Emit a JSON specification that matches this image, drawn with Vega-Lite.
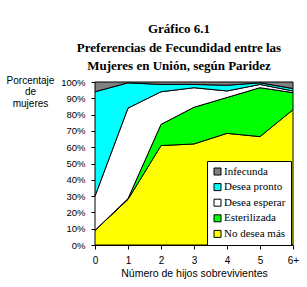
{
  "$schema": "https://vega.github.io/schema/vega-lite/v6.json",
  "width": 198,
  "height": 163,
  "autosize": {"type": "none"},
  "padding": {"left": 95, "top": 82, "right": 14, "bottom": 42},
  "background": "white",
  "title": {
    "text": ["Gráfico 6.1", "Preferencias de Fecundidad entre las", "Mujeres en Unión, según Paridez"],
    "font": "Liberation Serif",
    "fontSize": 13,
    "fontWeight": "bold",
    "color": "black",
    "anchor": "middle",
    "lineHeight": 18.5,
    "offset": 2,
    "dx": -15
  },
  "config": {
    "view": {"stroke": null},
    "axis": {"grid": false, "domainColor": "black", "tickColor": "black", "labelColor": "black", "titleColor": "black", "labelFont": "Liberation Sans", "titleFont": "Liberation Sans", "titleFontWeight": "normal"},
    "legend": {"labelFont": "Liberation Serif", "labelFontSize": 11, "labelColor": "black"}
  },
  "data": {
    "values": [
      {"hijos": "0", "serie": "No desea más", "pct": 9},
      {"hijos": "0", "serie": "Esterilizada", "pct": 0},
      {"hijos": "0", "serie": "Desea esperar", "pct": 21},
      {"hijos": "0", "serie": "Desea pronto", "pct": 64},
      {"hijos": "0", "serie": "Infecunda", "pct": 6},
      {"hijos": "1", "serie": "No desea más", "pct": 28},
      {"hijos": "1", "serie": "Esterilizada", "pct": 0.5},
      {"hijos": "1", "serie": "Desea esperar", "pct": 55.5},
      {"hijos": "1", "serie": "Desea pronto", "pct": 15.5},
      {"hijos": "1", "serie": "Infecunda", "pct": 0.5},
      {"hijos": "2", "serie": "No desea más", "pct": 61},
      {"hijos": "2", "serie": "Esterilizada", "pct": 13},
      {"hijos": "2", "serie": "Desea esperar", "pct": 20},
      {"hijos": "2", "serie": "Desea pronto", "pct": 4.5},
      {"hijos": "2", "serie": "Infecunda", "pct": 1.5},
      {"hijos": "3", "serie": "No desea más", "pct": 62},
      {"hijos": "3", "serie": "Esterilizada", "pct": 22.5},
      {"hijos": "3", "serie": "Desea esperar", "pct": 12},
      {"hijos": "3", "serie": "Desea pronto", "pct": 2},
      {"hijos": "3", "serie": "Infecunda", "pct": 1.5},
      {"hijos": "4", "serie": "No desea más", "pct": 68.5},
      {"hijos": "4", "serie": "Esterilizada", "pct": 22},
      {"hijos": "4", "serie": "Desea esperar", "pct": 4},
      {"hijos": "4", "serie": "Desea pronto", "pct": 3.5},
      {"hijos": "4", "serie": "Infecunda", "pct": 2},
      {"hijos": "5", "serie": "No desea más", "pct": 66.5},
      {"hijos": "5", "serie": "Esterilizada", "pct": 30},
      {"hijos": "5", "serie": "Desea esperar", "pct": 2},
      {"hijos": "5", "serie": "Desea pronto", "pct": 1},
      {"hijos": "5", "serie": "Infecunda", "pct": 0.5},
      {"hijos": "6+", "serie": "No desea más", "pct": 83},
      {"hijos": "6+", "serie": "Esterilizada", "pct": 10.5},
      {"hijos": "6+", "serie": "Desea esperar", "pct": 1},
      {"hijos": "6+", "serie": "Desea pronto", "pct": 1.5},
      {"hijos": "6+", "serie": "Infecunda", "pct": 4}
    ]
  },
  "transform": [
    {"calculate": "indexof(['No desea más','Esterilizada','Desea esperar','Desea pronto','Infecunda'], datum.serie)", "as": "orden"}
  ],
  "mark": {"type": "area", "stroke": "black", "strokeWidth": 1, "opacity": 1, "fillOpacity": 1},
  "encoding": {
    "x": {
      "field": "hijos", "type": "ordinal",
      "scale": {"type": "point", "padding": 0},
      "axis": {"labelAngle": 0, "title": "Número de hijos sobrevivientes", "titleFontSize": 10.5, "labelFontSize": 10, "tickSize": 4, "labelPadding": 6, "titlePadding": 3}
    },
    "y": {
      "field": "pct", "type": "quantitative", "stack": "zero",
      "scale": {"domain": [0, 100], "nice": false},
      "axis": {
        "values": [0, 10, 20, 30, 40, 50, 60, 70, 80, 90, 100],
        "labelExpr": "datum.value + '%'",
        "labelFontSize": 9.5,
        "tickSize": 4,
        "labelPadding": 6,
        "title": ["Porcentaje", "de", "mujeres"],
        "titleAngle": 0,
        "titleFontSize": 10,
        "titleAlign": "center",
        "titleBaseline": "top",
        "titleLineHeight": 11.5,
        "titleX": -65,
        "titleY": -7
      }
    },
    "order": {"field": "orden", "type": "quantitative", "sort": "ascending"},
    "color": {
      "field": "serie", "type": "nominal",
      "scale": {
        "domain": ["Infecunda", "Desea pronto", "Desea esperar", "Esterilizada", "No desea más"],
        "range": ["#808080", "#00ffff", "#ffffff", "#00ff00", "#ffff00"]
      },
      "legend": {
        "title": null,
        "orient": "none",
        "legendX": 112,
        "legendY": 79,
        "direction": "vertical",
        "fillColor": "white",
        "strokeColor": "black",
        "padding": 5,
        "rowPadding": 3.6,
        "symbolType": "square",
        "symbolSize": 49,
        "symbolStrokeColor": "black",
        "symbolStrokeWidth": 1,
        "symbolOpacity": 1,
        "labelFont": "Liberation Serif",
        "labelFontSize": 11,
        "labelColor": "black",
        "labelOffset": 1,
        "symbolOffset": 0,
        "labelLimit": 0
      }
    }
  }
}
